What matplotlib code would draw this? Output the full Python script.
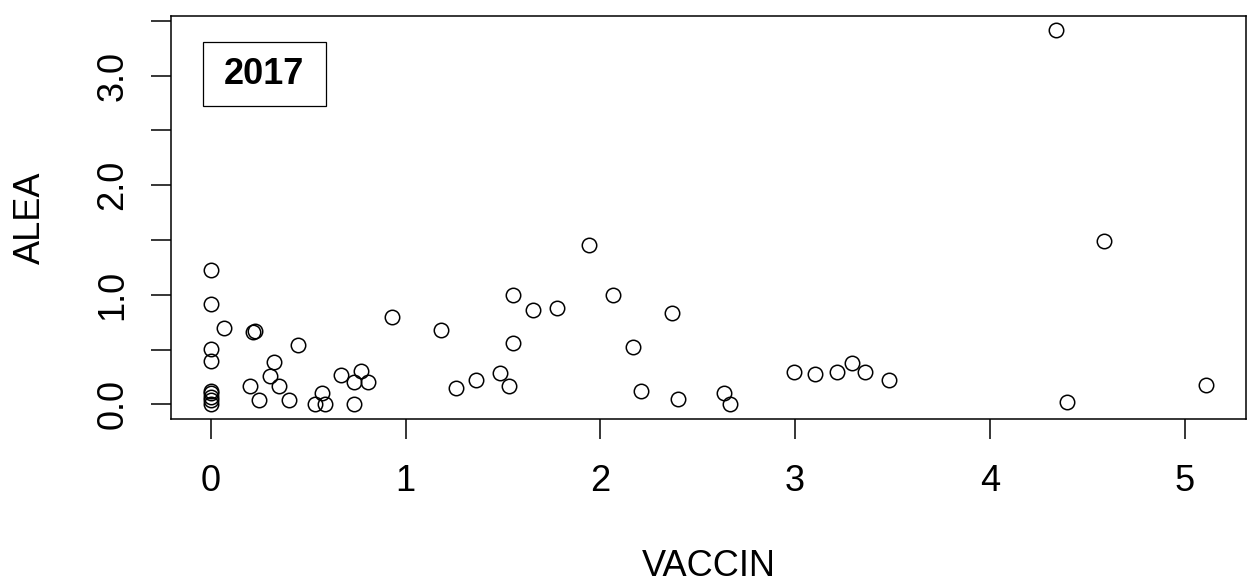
import numpy as np
import matplotlib
matplotlib.use("Agg")
import matplotlib.pyplot as plt
from matplotlib.patches import Rectangle

plt.rcParams['font.family'] = ['Liberation Sans', 'DejaVu Sans']

# VACCIN / ALEA values
vaccin = [0.0, 0.0, 0.067, 0.215, 0.225, 0.0, 0.0,
          0.0, 0.0, 0.0, 0.0, 0.0,
          0.447, 0.929, 0.324, 0.302, 0.200, 0.348, 0.247, 0.403,
          0.571, 0.533, 0.584, 0.670, 0.737, 0.773, 0.807, 0.737,
          1.943, 1.553, 1.652, 1.775, 2.067, 2.367, 1.184, 1.553,
          2.166, 1.261, 1.362, 1.484, 1.529, 2.211, 2.400,
          2.634, 2.668, 2.992, 3.102, 3.213, 3.292, 3.359, 3.481,
          4.341, 4.588, 4.398, 5.111]
alea = [1.230, 0.916, 0.697, 0.660, 0.665, 0.505, 0.395,
        0.000, 0.040, 0.070, 0.100, 0.120,
        0.539, 0.797, 0.383, 0.261, 0.164, 0.164, 0.042, 0.042,
        0.103, 0.003, 0.000, 0.265, 0.200, 0.307, 0.200, 0.000,
        1.455, 0.995, 0.858, 0.877, 0.995, 0.837, 0.679, 0.557,
        0.520, 0.146, 0.222, 0.283, 0.164, 0.121, 0.046,
        0.106, 0.003, 0.298, 0.280, 0.298, 0.377, 0.298, 0.222,
        3.412, 1.491, 0.024, 0.179]

xticks = [0, 1, 2, 3, 4, 5]
yticks = [0.0, 0.5, 1.0, 1.5, 2.0, 2.5, 3.0, 3.5]
ytick_labels = ['0.0', '', '1.0', '', '2.0', '', '3.0', '']
year = '2017'

fig = plt.figure(figsize=(12.55, 5.86), dpi=100)
ax = fig.add_axes([0.1363, 0.2845, 0.8565, 0.689])

ax.plot(vaccin, alea, 'o', mfc='none', mec='black', ms=10.4, mew=1.1)

# R style 4% padding
x = np.array(vaccin)
y = np.array(alea)
dx = (x.max() - x.min()) * 0.04
dy = (y.max() - y.min()) * 0.04
ax.set_xlim(x.min() - dx, x.max() + dx)
ax.set_ylim(y.min() - dy, y.max() + dy)

ax.set_xticks(xticks)
ax.set_yticks(yticks)
ax.set_yticklabels(ytick_labels)
ax.tick_params(axis='both', direction='out', length=14.4, width=1.1,
               labelsize=26, colors='black')
ax.tick_params(axis='x', pad=18)
ax.tick_params(axis='y', pad=15, labelrotation=90)
for lab in ax.get_yticklabels():
    lab.set_va('center')

for sp in ax.spines.values():
    sp.set_linewidth(1.1)

ax.set_xlabel('VACCIN', fontsize=26, labelpad=36)
ax.set_ylabel('ALEA', fontsize=26, labelpad=34)

# year box
ax.add_patch(Rectangle((0.0295, 0.776), 0.1144, 0.1585, transform=ax.transAxes,
                       fill=False, ec='black', lw=0.9))
ax.text(0.0865, 0.855, year, transform=ax.transAxes, fontsize=26,
        fontweight='bold', ha='center', va='center')

fig.savefig('out.png', dpi=100)
